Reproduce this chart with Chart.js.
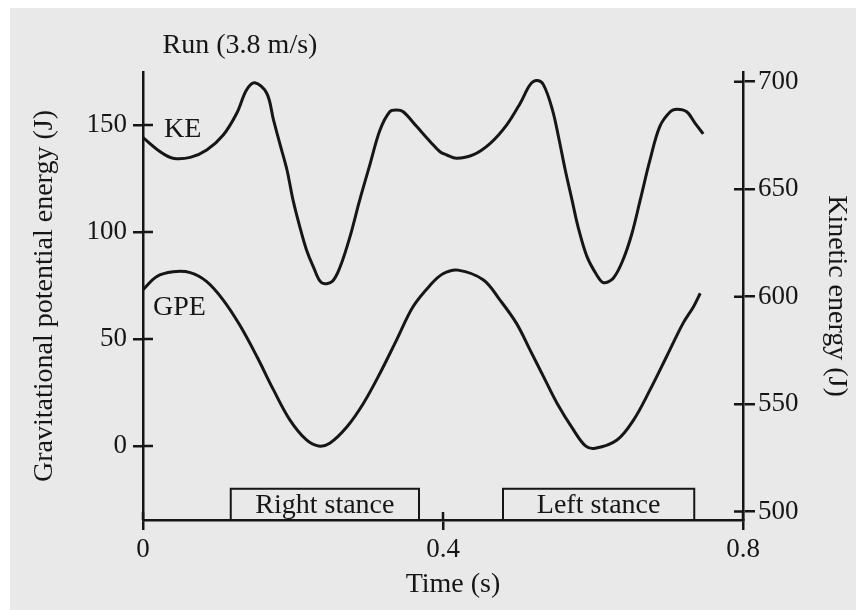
<!DOCTYPE html>
<html><head><meta charset="utf-8">
<script src="https://cdn.jsdelivr.net/npm/chart.js@4.4.0/dist/chart.umd.min.js"></script>
<style>html,body{margin:0;padding:0;background:#fff;} canvas{display:block;}</style>
</head><body>
<canvas id="c" width="856" height="610"></canvas>
<script>
// ---- data ----
const timeKE = [0, 0.023, 0.040, 0.063, 0.085, 0.107, 0.125, 0.138, 0.149, 0.165, 0.174, 0.183, 0.192, 0.200, 0.209, 0.218, 0.227, 0.238, 0.252, 0.263, 0.276, 0.289, 0.303, 0.316, 0.329, 0.338, 0.347, 0.365, 0.383, 0.396, 0.405, 0.418, 0.440, 0.463, 0.485, 0.503, 0.516, 0.525, 0.534, 0.546, 0.554, 0.563, 0.572, 0.580, 0.592, 0.605, 0.614, 0.627, 0.640, 0.652, 0.663, 0.676, 0.689, 0.703, 0.712, 0.725, 0.736, 0.747];
const keValues = [674, 667.4, 664.4, 664.8, 668.2, 675.2, 685.3, 696.1, 699.5, 694.6, 682.2, 670.5, 658.9, 645, 632.6, 621.7, 614, 606.5, 607, 614, 627.9, 645, 662, 677.5, 686, 686.8, 686, 679.1, 672.1, 667.4, 665.9, 664.4, 665.9, 671.3, 679.9, 690, 698.5, 700.5, 698.5, 686.8, 674.4, 658.9, 645, 632.6, 618.6, 610.1, 606.5, 608.6, 617.1, 629.5, 645, 663.6, 679.1, 686, 687.2, 686, 680.7, 675.7];
const timeGPE = [0, 0.018, 0.040, 0.063, 0.085, 0.107, 0.129, 0.152, 0.174, 0.196, 0.218, 0.234, 0.249, 0.272, 0.294, 0.316, 0.338, 0.360, 0.383, 0.400, 0.420, 0.454, 0.476, 0.498, 0.516, 0.534, 0.552, 0.574, 0.590, 0.603, 0.632, 0.654, 0.676, 0.698, 0.720, 0.734, 0.743];
const gpeValues = [73, 79.1, 81.4, 81, 76.8, 68.2, 56.5, 41.7, 26.2, 12.1, 2.8, 0, 1.3, 9, 20, 34, 49.5, 65.1, 75.2, 80.5, 82.2, 77.6, 68.2, 57.3, 44.9, 32.4, 20, 7.5, 0, -1.1, 2.8, 12.1, 26.2, 41.7, 57.3, 65.1, 71.4];
const xTicks = [0, 0.4, 0.8];
const gpeTicks = [0, 50, 100, 150];
const keTicks = [500, 550, 600, 650, 700];
const stanceLabels = ['Right stance', 'Left stance'];
const stanceStart = [0.117, 0.480];
const stanceEnd = [0.368, 0.735];
const stanceTop = -20;           // GPE-axis value of the stance box top
const seriesLabels = ['KE', 'GPE'];
const seriesLabelT = [0.028, 0.0133];
const seriesLabelGPE = [144.4, 61.2];
const chartTitle = 'Run (3.8 m/s)';
const xTitle = 'Time (s)';

const FONT = '"Liberation Serif", "Times New Roman", serif';
const INK = '#161616';
const BG = '#e9e9e9';

const decor = {
  id: 'decor',
  beforeDraw(chart) {
    const ctx = chart.ctx;
    ctx.save();
    ctx.fillStyle = '#ffffff';
    ctx.fillRect(0, 0, chart.width, chart.height);
    ctx.fillStyle = BG;
    ctx.fillRect(10, 8, chart.width - 10, chart.height - 8);
    ctx.restore();
  },
  afterDraw(chart) {
    const {ctx, chartArea: a, scales} = chart;
    const x = scales.x, y = scales.y, y2 = scales.y2;
    ctx.save();
    ctx.strokeStyle = INK;
    ctx.lineWidth = 2.5;
    ctx.beginPath();
    gpeTicks.forEach(v => { const p = y.getPixelForValue(v); ctx.moveTo(a.left, p); ctx.lineTo(a.left + 10, p); });
    keTicks.forEach(v => { const p = y2.getPixelForValue(v); ctx.moveTo(a.right, p); ctx.lineTo(a.right - 9, p); });
    xTicks.forEach(v => { const p = x.getPixelForValue(v); ctx.moveTo(p, a.bottom); ctx.lineTo(p, a.bottom - 8); });
    ctx.stroke();

    ctx.lineWidth = 2;
    ctx.fillStyle = INK;
    ctx.font = '28px ' + FONT;
    ctx.textBaseline = 'alphabetic';
    ctx.textAlign = 'center';
    stanceLabels.forEach((lab, i) => {
      const x0 = x.getPixelForValue(stanceStart[i]);
      const x1 = x.getPixelForValue(stanceEnd[i]);
      const yt = y.getPixelForValue(stanceTop);
      const yb = a.bottom;
      ctx.strokeRect(x0, yt, x1 - x0, yb - yt);
      ctx.fillText(lab, (x0 + x1) / 2, yb - 7);
    });

    ctx.textAlign = 'left';
    seriesLabels.forEach((lab, i) => {
      ctx.fillText(lab, x.getPixelForValue(seriesLabelT[i]), y.getPixelForValue(seriesLabelGPE[i]));
    });

    ctx.textAlign = 'center';
    ctx.fillText(chartTitle, 240, 53);
    ctx.fillText(xTitle, (a.left + a.right) / 2 + 10, 592);
    ctx.restore();
  }
};

const axisCommon = (tl) => ({
  grid: { drawOnChartArea: false, drawTicks: true, tickLength: tl, color: INK, tickColor: INK, lineWidth: 2.5, tickWidth: 2.5 },
  border: { display: true, color: INK, width: 2.5 }
});

new Chart(document.getElementById('c'), {
  type: 'line',
  data: {
    datasets: [
      {
        label: 'KE',
        data: timeKE.map((t, i) => ({x: t, y: keValues[i]})),
        yAxisID: 'y2',
        borderColor: INK, borderWidth: 3, pointRadius: 0,
        tension: 0.35, fill: false
      },
      {
        label: 'GPE',
        data: timeGPE.map((t, i) => ({x: t, y: gpeValues[i]})),
        yAxisID: 'y',
        borderColor: INK, borderWidth: 3, pointRadius: 0,
        tension: 0.35, fill: false
      }
    ]
  },
  options: {
    responsive: false,
    devicePixelRatio: 1,
    animation: false,
    layout: { padding: { top: 72, left: 0, right: 0, bottom: 0 } },
    plugins: { legend: { display: false }, tooltip: { enabled: false }, title: { display: false } },
    scales: {
      x: Object.assign(axisCommon(10), {
        type: 'linear', position: 'bottom', min: 0, max: 0.8,
        afterBuildTicks: s => { s.ticks = xTicks.map(v => ({value: v})); },
        afterFit: s => { s.height = 90; },
        ticks: { font: {family: FONT, size: 27}, color: INK, padding: 4, maxRotation: 0, callback: v => String(v) }
      }),
      y: Object.assign(axisCommon(10), {
        type: 'linear', position: 'left', min: -34.6, max: 174.8,
        afterBuildTicks: s => { s.ticks = gpeTicks.map(v => ({value: v})); },
        afterFit: s => { s.width = 143; },
        ticks: { font: {family: FONT, size: 27}, color: INK, padding: 6, callback: v => String(v) },
        title: { display: true, text: 'Gravitational potential energy (J)', font: {family: FONT, size: 28}, color: INK, padding: {top: 28, bottom: 0} }
      }),
      y2: Object.assign(axisCommon(12), {
        type: 'linear', position: 'right', min: 496.1, max: 704.5,
        afterBuildTicks: s => { s.ticks = keTicks.map(v => ({value: v})); },
        afterFit: s => { s.width = 113; },
        ticks: { font: {family: FONT, size: 27}, color: INK, padding: 3, callback: v => String(v) },
        title: { display: true, text: 'Kinetic energy (J)', font: {family: FONT, size: 28}, color: INK, padding: {top: 3, bottom: 0} }
      })
    }
  },
  plugins: [decor]
});
</script>
</body></html>
